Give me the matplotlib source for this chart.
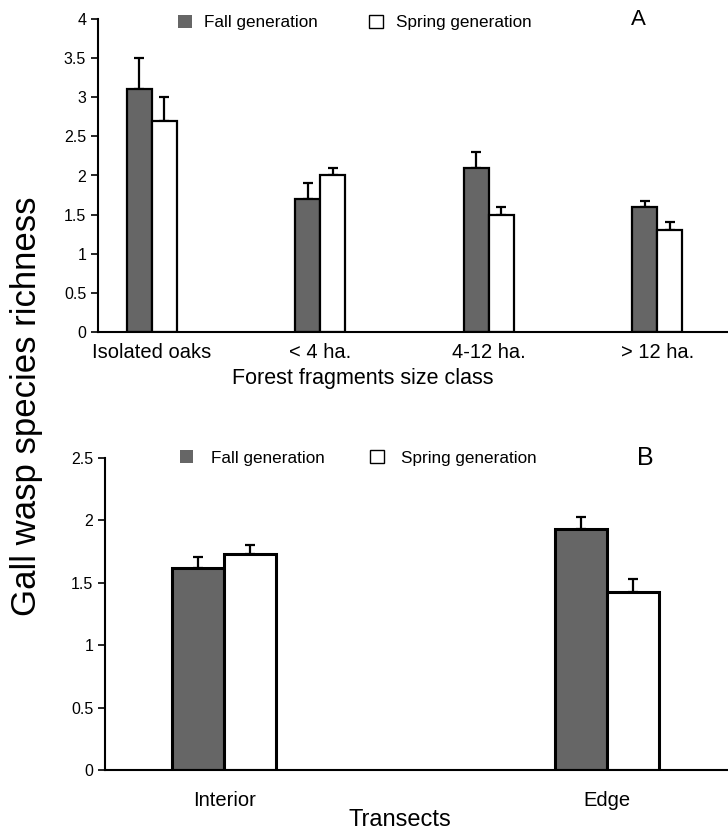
import numpy as np
import matplotlib
matplotlib.use('Agg')
import matplotlib.pyplot as plt
from matplotlib.patches import Patch

plt.rcParams['font.family'] = ['Liberation Sans', 'DejaVu Sans']

# panel A: forest fragment size classes
frag_labels = ['Isolated oaks', '< 4 ha.', '4-12 ha.', '> 12 ha.']
fall_a = [3.1, 1.7, 2.1, 1.6]
fall_a_se = [0.4, 0.2, 0.2, 0.08]
spring_a = [2.7, 2.0, 1.5, 1.3]
spring_a_se = [0.3, 0.1, 0.1, 0.1]

# panel B: transects
trans_labels = ['Interior', 'Edge']
fall_b = [1.62, 1.93]
fall_b_se = [0.09, 0.1]
spring_b = [1.73, 1.43]
spring_b_se = [0.07, 0.1]

FALL = '#666666'

fig = plt.figure(figsize=(7.28, 8.30), dpi=100)
axA = fig.add_axes([98/728, 1 - 332/830, 630/728, 313/830])
axB = fig.add_axes([105/728, 1 - 770/830, 623/728, 312/830])


def draw_bars(ax, fall, fall_se, spring, spring_se, width, lw):
    x = np.arange(len(fall))
    ax.bar(x - width/2, fall, width, color=FALL, edgecolor='black', lw=lw, zorder=2)
    ax.bar(x + width/2, spring, width, color='white', edgecolor='black', lw=lw, zorder=2)
    ax.errorbar(x - width/2, fall, yerr=[np.zeros(len(fall)), fall_se], fmt='none',
                ecolor='black', elinewidth=1.6, capsize=3.5, capthick=1.6, zorder=1)
    ax.errorbar(x + width/2, spring, yerr=[np.zeros(len(spring)), spring_se], fmt='none',
                ecolor='black', elinewidth=1.6, capsize=3.5, capthick=1.6, zorder=1)
    for s in ['top', 'right']:
        ax.spines[s].set_visible(False)
    ax.spines['left'].set_linewidth(1.5)
    ax.spines['bottom'].set_linewidth(1.5)
    ax.tick_params(axis='x', length=0)
    ax.tick_params(axis='y', direction='out', length=5, width=1.2, labelsize=11.5)
    return x


handles = [Patch(facecolor=FALL, edgecolor='none', label='Fall generation'),
           Patch(facecolor='white', edgecolor='black', lw=1, label='Spring generation')]

# --- panel A ---
x = draw_bars(axA, fall_a, fall_a_se, spring_a, spring_a_se, 0.148, 1.6)
axA.set_xlim(-0.318, 3.419)
axA.set_ylim(0, 4)
axA.set_yticks(np.arange(0, 4.01, 0.5))
axA.set_yticklabels(['0', '0.5', '1', '1.5', '2', '2.5', '3', '3.5', '4'])
axA.set_xticks(x)
axA.set_xticklabels(frag_labels, fontsize=14.5)
axA.tick_params(axis='x', pad=8)
axA.set_xlabel('Forest fragments size class', fontsize=15.5)
axA.xaxis.set_label_coords(0.42, -0.115)
axA.legend(handles=handles, ncol=2, frameon=False, fontsize=12.3, loc='upper left',
           bbox_to_anchor=(0.127, 1.013), borderpad=0, borderaxespad=0,
           handlelength=0.8, handleheight=0.8, columnspacing=3.0, handletextpad=0.75)
axA.text(0.857, 0.997, 'A', transform=axA.transAxes, fontsize=16, ha='center', va='center')

# --- panel B ---
x = draw_bars(axB, fall_b, fall_b_se, spring_b, spring_b_se, 0.136, 2.2)
axB.set_xlim(-0.311, 1.316)
axB.set_ylim(0, 2.5)
axB.set_yticks(np.arange(0, 2.51, 0.5))
axB.set_yticklabels(['0', '0.5', '1', '1.5', '2', '2.5'])
axB.set_xticks(x)
axB.set_xticklabels(trans_labels, fontsize=14.5)
axB.tick_params(axis='x', pad=15)
axB.set_xlabel('Transects', fontsize=17)
axB.xaxis.set_label_coords(0.474, -0.125)
axB.legend(handles=handles, ncol=2, frameon=False, fontsize=12.3, loc='upper left',
           bbox_to_anchor=(0.12, 1.025), borderpad=0, borderaxespad=0,
           handlelength=0.8, handleheight=0.8, columnspacing=2.7, handletextpad=1.0)
axB.text(0.867, 1.0, 'B', transform=axB.transAxes, fontsize=18, ha='center', va='center')

fig.text(0.037, 0.51, 'Gall wasp species richness', rotation=90, fontsize=25,
         ha='center', va='center')

fig.savefig('out.png', dpi=100)
